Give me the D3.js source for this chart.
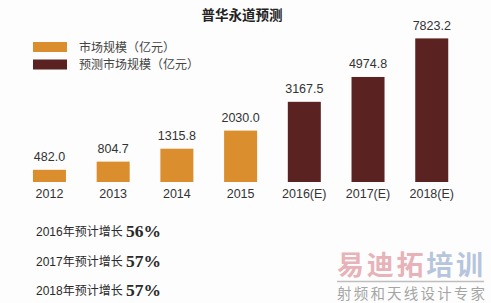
<!DOCTYPE html>
<html>
<head>
<meta charset="utf-8">
<script src="https://d3js.org/d3.v7.min.js"></script>
<style>
    body { margin: 0; background: #fdfdfd; }
</style>
</head>
<body>
<div id="chart"></div>
<script>

    // data
    var years = ["2012", "2013", "2014", "2015", "2016(E)", "2017(E)", "2018(E)"]
    var values = [482.0, 804.7, 1315.8, 2030.0, 3167.5, 4974.8, 7823.2]
    var isForecast = [false, false, false, false, true, true, true]
    var legendLabels = ["市场规模（亿元）", "预测市场规模（亿元）"]
    var growthYears = ["2016", "2017", "2018"]
    var growthRates = [56, 57, 57]

    var width = 491, height = 303
    var colors = ["#da8e2d", "#5a2321"]
    var cjk = "'Liberation Sans', Arial, 'Noto Sans CJK SC', sans-serif"

    var svg = d3.select("#chart")
        .append("svg")
        .attr("width", width)
        .attr("height", height)
        .style("font-family", cjk)

    // title
    svg.append("text")
        .attr("x", 242)
        .attr("y", 20)
        .attr("text-anchor", "middle")
        .style("font-size", "13.5px")
        .style("font-weight", "bold")
        .style("fill", "#222")
        .text("普华永道预测")

    // legend
    var legend = svg.selectAll(".legend")
        .data(legendLabels)
        .enter()
        .append("g")
        .attr("transform", function (d, i) { return "translate(33," + (42 + i * 17.5) + ")" })
    legend.append("rect")
        .attr("width", 34)
        .attr("height", 10)
        .style("fill", function (d, i) { return colors[i] })
    legend.append("text")
        .attr("x", 46)
        .attr("y", 9.5)
        .style("font-size", "12px")
        .style("fill", "#444")
        .text(function (d) { return d })

    // scales - the original compresses the taller forecast bars
    var x = d3.scaleBand()
        .domain(years)
        .range([17.6, 463.6])
        .paddingInner(0.482)
        .paddingOuter(0.241)
    var baseY = 182
    var y = d3.scaleLinear()
        .domain([0, 3200, 8000])
        .range([baseY, baseY - 81, baseY - 146])

    // bars
    svg.selectAll(".bar")
        .data(values)
        .enter()
        .append("rect")
        .attr("x", function (d, i) { return x(years[i]) })
        .attr("y", function (d) { return y(d) })
        .attr("width", x.bandwidth())
        .attr("height", function (d) { return baseY - y(d) })
        .style("fill", function (d, i) { return isForecast[i] ? colors[1] : colors[0] })

    // value labels
    svg.selectAll(".val")
        .data(values)
        .enter()
        .append("text")
        .attr("x", function (d, i) { return x(years[i]) + x.bandwidth() / 2 })
        .attr("y", function (d) { return y(d) - 8.5 })
        .attr("text-anchor", "middle")
        .style("font-size", "12.5px")
        .style("fill", "#333")
        .text(function (d) { return d.toFixed(1) })

    // year labels
    svg.selectAll(".year")
        .data(years)
        .enter()
        .append("text")
        .attr("x", function (d) { return x(d) + x.bandwidth() / 2 })
        .attr("y", 197.5)
        .attr("text-anchor", "middle")
        .style("font-size", "12.5px")
        .style("fill", "#333")
        .text(function (d) { return d })

    // growth notes
    var notes = svg.selectAll(".note")
        .data(growthYears)
        .enter()
        .append("text")
        .attr("x", 36)
        .attr("y", function (d, i) { return 236 + i * 29.5 })
        .style("fill", "#2a2a2a")
    notes.append("tspan")
        .style("font-size", "12px")
        .text(function (d) { return d + "年预计增长 " })
    notes.append("tspan")
        .style("font-family", "'Liberation Serif', 'Times New Roman', serif")
        .style("font-weight", "bold")
        .style("font-size", "17.5px")
        .attr("dy", 1)
        .text(function (d, i) { return growthRates[i] + "%" })

    // watermark
    var wm = svg.append("g").style("opacity", 0.75)
    var wmText = wm.append("text")
        .attr("x", 337)
        .attr("y", 275)
        .attr("textLength", 146)
        .style("font-family", "'Noto Sans CJK SC', sans-serif")
        .style("font-weight", "bold")
        .style("font-size", "27px")
    wmText.append("tspan").style("fill", "#e09aa2").text("易迪拓")
    wmText.append("tspan").style("fill", "#9fb3d3").text("培训")
    wm.append("line")
        .attr("x1", 337).attr("x2", 484)
        .attr("y1", 281.5).attr("y2", 281.5)
        .attr("stroke", "#aaa")
        .attr("stroke-width", 1.5)
    wm.append("text")
        .attr("x", 337)
        .attr("y", 299)
        .attr("textLength", 148)
        .style("font-family", "'Noto Sans CJK SC', sans-serif")
        .style("font-size", "14.5px")
        .style("fill", "#888")
        .text("射频和天线设计专家")

</script>
</body>
</html>
